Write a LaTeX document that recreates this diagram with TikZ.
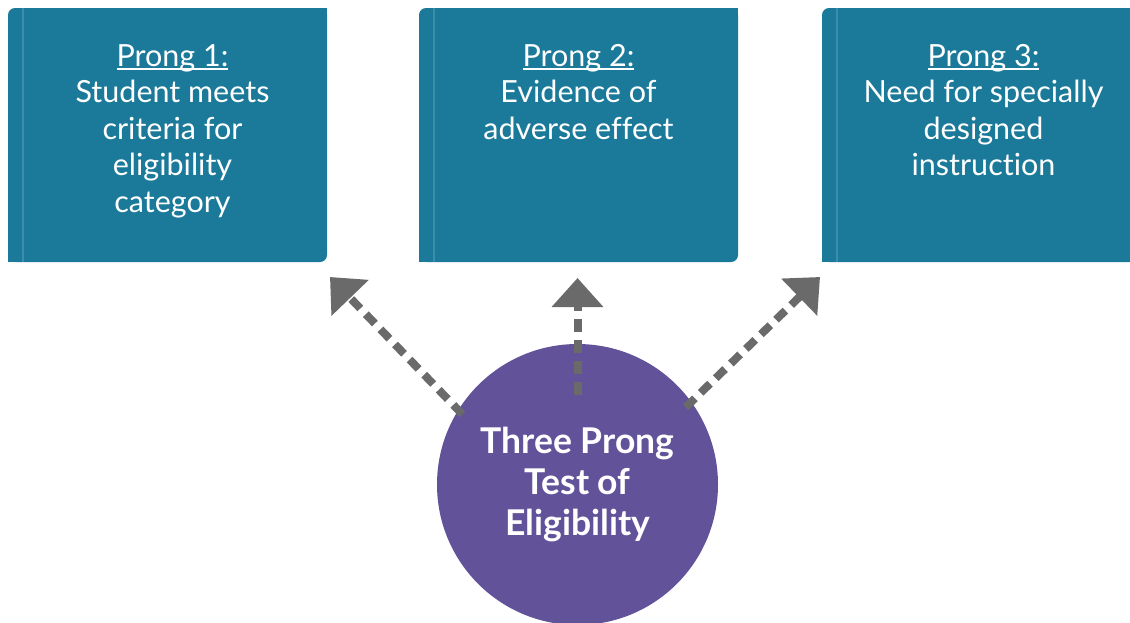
\documentclass[tikz,border=0pt]{standalone}
\usepackage{fontspec}
\setmainfont{Lato}[Ligatures={NoCommon}]
\usetikzlibrary{arrows.meta}
\definecolor{boxteal}{HTML}{1B7A9A}
\definecolor{boxfold}{HTML}{3A8EAC}
\definecolor{ringpurple}{HTML}{62529A}
\definecolor{arrowgray}{HTML}{6A6A6A}
\newcommand\prongul[1]{\setbox0=\hbox{#1}\rlap{\rule[-3.5pt]{\wd0}{1.8pt}}\box0}
\newcommand\prongtext[2][0pt]{\hspace*{#1}\parbox[c][254pt][t]{300pt}{\centering\fontsize{30.5}{36.6}\selectfont\rule{0pt}{58pt}#2}}
\begin{document}
\begin{tikzpicture}[x=1pt,y=-1pt,
  prongbox/.style={fill=boxteal, rounded corners=7pt, inner sep=0pt, text=white,
    minimum width=319pt, minimum height=254pt,
    path picture={\draw[boxfold, line width=1.2pt]
      ([xshift=15pt]path picture bounding box.north west) --
      ([xshift=15pt]path picture bounding box.south west);}},
  centre/.style={circle, fill=ringpurple, minimum size=281pt, inner sep=0pt, text=white,
    align=center, font=\bfseries\fontsize{35.5}{41}\selectfont},
  prongarrow/.style={draw=arrowgray, line width=8pt, dash pattern=on 13pt off 8pt,
    -{Triangle[width=50pt,length=29pt]}}
]
\useasboundingbox (0,0) rectangle (1130,622);
\clip (0,0) rectangle (1130,622);
\fill[white] (0,0) rectangle (1130,622);

\node[prongbox] (b1) at (167.5,135) {\prongtext[10pt]{\prongul{Prong 1:}\\Student meets\\criteria for\\eligibility\\category}};
\node[prongbox] (b2) at (578.5,135) {\prongtext{\prongul{Prong 2:}\\Evidence of\\adverse effect}};
\node[prongbox] (b3) at (981.5,135) {\prongtext[4pt]{\prongul{Prong 3:}\\Need for specially\\designed\\instruction}};
\foreach \b in {b1,b2,b3}{
  \fill[boxteal] (\b.north east) rectangle ++(-10,10);
  \fill[boxteal] (\b.south west) rectangle ++(10,-10);
  \draw[boxfold, line width=1.2pt] ([xshift=15pt]\b.south west) -- ++(0,-10);
}

\node[centre] (c) at (577.5,484.5) {Three Prong\\Test of\\Eligibility};

\coordinate (t1) at (330,277);
\coordinate (t2) at (577.5,278);
\coordinate (t3) at (820,277);
\draw[prongarrow, shorten <=-6pt] (c.148) -- (t1);
\draw[prongarrow, shorten <=-51pt] (c) -- (t2);
\draw[prongarrow, shorten <=-8pt] (c.36) -- (t3);
\end{tikzpicture}
\end{document}
